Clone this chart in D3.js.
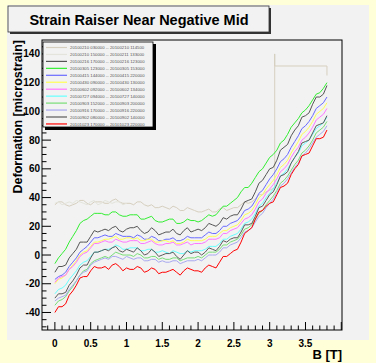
<!DOCTYPE html>
<html><head><meta charset="utf-8">
<script src="https://cdn.jsdelivr.net/npm/d3@7"></script>
<style>body{margin:0;background:#ffffd8;} svg{display:block;}</style>
</head><body><svg id="c" width="376" height="363"></svg>
<script>
const bGrid = [0,0.1,0.2,0.3,0.4,0.5,0.6,0.7,0.8,0.9,1.0,1.1,1.2,1.3,1.4,1.5,1.6,1.7,1.8,1.9,2.0,2.1,2.2,2.3,2.4,2.5,2.6,2.7,2.8,2.9,3.0,3.1,3.2,3.3,3.4,3.5,3.6,3.7,3.8];
const bMid = [0.05,0.15,0.25,0.35,0.45,0.55,0.65,0.75,0.85,0.95,1.05,1.15,1.25,1.35,1.45,1.55,1.65,1.75,1.85,1.95,2.05,2.15,2.25,2.35,2.45,2.55,2.65,2.75,2.85,2.95,3.05,3.15,3.25,3.35,3.45,3.55,3.65,3.75];
const seriesNames = [
 "20100210 030000 -- 20100210 114500","20100210 150000 -- 20100211 133000","20100216 170000 -- 20100216 123000",
 "20100305 123000 -- 20100305 153000","20100415 144000 -- 20100415 220000","20100430 090000 -- 20100430 130000",
 "20100602 092000 -- 20100602 134000","20100727 094000 -- 20100727 140000","20100903 152000 -- 20100903 200000",
 "20100916 170000 -- 20100916 220000","20100902 080000 -- 20100902 140000","20101023 170000 -- 20101023 220000"];
const seriesColors = ["#d6cfbf","#e4e4dc","#555555","#33ee33","#6a6aff","#ffff55","#ff77ff","#66ffff","#77dd77","#a8a8f0","#5a5a5a","#ff0000"];
const tanVals = [35,37,34,36,38,35,37,36,38,37,36,35,37,34,33,34,32,33,31,32,30,31,30,32,31,33,35,36,39,42,45];
const tanMid = [37,35,35,38,36,37,37,36,39,36,36,37,35,35,33,33,34,31,33,31,30,32,30,33,32,33,37,37,42,44];
const tanTailB = [3.07,3.07,3.07,3.8,3.8];
const tanTailV = [47,140,131.6,131.6,125];
const lightVals = [36,35,37,38,36,37,35,38,36,37,36];
const lightMid = [37,36,36,37,35,38,36,37,37,35];
const darkA = [-12,-8,-2,4,9,13,16,18,19,17,18,19,17,16,17,15,16,15,17,16,18,19,21,22,25,28,32,38,44,52,60,66,75,83,90,97,105,110,118];
const darkAMid = [-8,-7,1,9,9,17,17,17,20,16,19,20,15,19,14,16,18,14,19,17,17,22,20,26,27,28,37,39,50,56,61,73,77,87,96,99,110,112];
const green = [-6,1,9,17,24,27,29,28,30,28,27,28,25,26,24,23,25,22,23,24,23,26,27,31,34,38,44,47,54,60,68,73,80,89,95,101,108,113,120];
const greenMid = [-2,4,13,22,25,29,29,28,30,27,28,28,25,27,23,24,25,22,25,24,24,28,28,34,36,40,47,50,58,64,70,78,84,92,99,104,112,116];
const blue = [-17,-14,-8,-2,4,9,12,14,13,14,13,12,13,11,12,10,11,10,11,12,12,14,15,17,20,23,27,32,38,45,53,60,67,75,83,90,97,104,110];
const blueMid = [-15,-12,-5,2,6,12,13,13,15,13,13,14,11,13,10,11,12,10,13,12,12,16,15,20,22,24,31,34,43,49,56,65,70,79,88,93,102,106];
const yellow = [-20,-16,-10,-4,2,6,9,11,12,11,12,11,10,11,9,10,9,8,9,10,10,11,13,15,17,20,24,29,35,42,49,56,63,71,79,86,93,100,106];
const yellowMid = [-17,-14,-7,0,3,9,10,11,13,11,12,12,10,11,9,10,10,8,11,10,10,13,13,17,19,21,28,31,40,46,52,61,66,75,84,89,98,102];
const magenta = [-19,-15,-10,-5,1,5,8,10,9,10,9,10,8,9,8,7,8,7,8,7,8,9,11,12,15,18,22,26,32,39,46,53,60,68,75,82,89,96,102];
const magentaMid = [-16,-14,-8,-1,2,8,9,9,11,9,10,10,8,10,7,8,9,7,9,8,8,11,11,15,17,19,25,28,37,43,49,58,63,72,80,85,94,98];
const cyan = [-27,-23,-17,-11,-5,-1,2,4,5,6,4,5,3,4,2,3,1,2,1,2,3,4,6,8,11,14,18,23,29,36,43,50,57,64,71,78,84,90,96];
const cyanMid = [-24,-21,-14,-7,-4,2,3,4,7,4,5,5,3,4,2,2,3,1,3,3,3,6,6,11,13,15,22,25,34,40,46,55,60,68,76,80,88,92];
const lightGreen = [-35,-31,-25,-18,-11,-6,-3,-1,0,1,0,-1,0,-2,-1,-2,-3,-2,-3,-2,-1,0,2,4,7,10,14,19,25,31,38,45,52,59,66,73,80,87,93];
const lightGreenMid = [-32,-29,-22,-14,-10,-4,-2,-2,2,0,0,1,-2,-1,-3,-3,-2,-4,-2,-2,-2,2,2,7,9,11,18,21,29,35,41,50,55,63,71,76,85,89];
const lavender = [-32,-29,-24,-18,-12,-7,-4,-2,-1,-2,-1,-3,-2,-4,-3,-4,-5,-4,-5,-4,-3,-2,0,2,5,8,12,17,23,29,36,43,50,57,64,71,78,84,90];
const lavenderMid = [-30,-28,-21,-14,-11,-5,-3,-3,-1,-3,-2,-2,-4,-3,-5,-5,-4,-6,-4,-4,-4,0,0,5,7,9,16,19,27,33,39,48,53,61,69,74,82,86];
const darkB = [-30,-27,-21,-14,-7,-2,2,4,5,3,4,2,3,1,2,0,1,-1,0,1,2,2,4,6,9,12,16,21,27,34,42,49,56,64,72,79,85,91,97];
const darkBMid = [-27,-26,-18,-9,-7,2,3,3,6,2,3,5,0,4,-1,1,2,-3,3,2,0,5,3,10,11,12,21,22,33,38,44,55,58,68,78,80,90,92];
const red = [-40,-36,-28,-21,-15,-11,-9,-8,-7,-8,-9,-10,-9,-11,-10,-12,-11,-12,-11,-10,-11,-9,-8,-5,-1,3,9,17,25,31,36,42,48,56,63,70,76,81,87];
const redMid = [-36,-34,-25,-16,-15,-8,-9,-10,-6,-11,-10,-8,-12,-9,-13,-12,-10,-14,-9,-11,-12,-7,-9,-1,1,4,15,19,30,34,37,47,50,60,69,71,81,82];
const yTicks = [-40,-20,0,20,40,60,80,100,120,140];
const xTicks = [0,0.5,1,1.5,2,2.5,3,3.5];
const xTickLabels = ["0","0.5","1","1.5","2","2.5","3","3.5"];

const svg = d3.select("#c");
const F = "'Liberation Sans', Arial, sans-serif";
svg.append("rect").attr("x",7).attr("y",5).attr("width",362).attr("height",335).attr("fill","#f2f2f2");

const L=42,R=342,T=40,B=330;
const x = d3.scaleLinear().domain([-0.18,4.01]).range([L,R]);
const y = d3.scaleLinear().domain([-52.2,149.7]).range([B,T]);

function merge(v,m){const out=[];v.forEach((val,i)=>{out.push([bGrid[i],val]); if(i<m.length) out.push([bMid[i],m[i]]);});return out;}
const curves = [];
curves.push(merge(tanVals,tanMid).concat(tanTailB.map((b,i)=>[b,tanTailV[i]])));
curves.push(merge(lightVals,lightMid));
[[darkA,darkAMid],[green,greenMid],[blue,blueMid],[yellow,yellowMid],[magenta,magentaMid],[cyan,cyanMid],
 [lightGreen,lightGreenMid],[lavender,lavenderMid],[darkB,darkBMid],[red,redMid]].forEach(p=>curves.push(merge(p[0],p[1])));
const line = d3.line().x(d=>x(d[0])).y(d=>y(d[1]));
const g = svg.append("g");
curves.forEach((c,i)=>g.append("path").attr("d",line(c)).attr("fill","none").attr("stroke",seriesColors[i]).attr("stroke-width",1));

// frame
svg.append("rect").attr("x",L).attr("y",T).attr("width",R-L).attr("height",B-T).attr("fill","none").attr("stroke","#000");

// y axis ticks
const yMinor = d3.range(-50,150,5);
svg.append("g").selectAll("line").data(yMinor).join("line")
 .attr("x1",L).attr("x2",d=>L+(d%20===0?9:4.5)).attr("y1",d=>y(d)).attr("y2",d=>y(d)).attr("stroke","#000");
svg.append("g").selectAll("text").data(yTicks).join("text")
 .attr("x",40).attr("y",d=>y(d)+3.5).attr("text-anchor","end").attr("font-family",F).attr("font-weight","bold").attr("font-size",10).text(d=>d);
// x axis ticks
const xMinor = d3.range(-1,41,1).map(d=>d/10);
svg.append("g").selectAll("line").data(xMinor).join("line")
 .attr("y1",B).attr("y2",d=>B-((Math.round(d*10))%5===0?8:4.5)).attr("x1",d=>x(d)).attr("x2",d=>x(d)).attr("stroke","#000");
svg.append("g").selectAll("text").data(xTicks).join("text")
 .attr("x",d=>x(d)).attr("y",347).attr("text-anchor","middle").attr("font-family",F).attr("font-weight","bold").attr("font-size",10).text((d,i)=>xTickLabels[i]);

svg.append("text").attr("x",342).attr("y",359).attr("text-anchor","end").attr("font-family",F).attr("font-weight","bold").attr("font-size",13).text("B [T]");
svg.append("text").attr("transform","translate(22,40) rotate(-90)").attr("text-anchor","end").attr("font-family",F).attr("font-weight","bold").attr("font-size",12.5).text("Deformation [microstrain]");

// legend
const lg = svg.append("g");
lg.append("rect").attr("x",45).attr("y",44).attr("width",111).attr("height",86).attr("fill","#000");
lg.append("rect").attr("x",43).attr("y",42).attr("width",110).attr("height",85).attr("fill","#f2f2f2").attr("stroke","#000").attr("stroke-width",0.8);
seriesNames.forEach((n,i)=>{
  const yy = 47.5 + i*6.95;
  lg.append("line").attr("x1",46).attr("x2",67).attr("y1",yy).attr("y2",yy).attr("stroke",seriesColors[i]).attr("stroke-width",1.2);
  lg.append("text").attr("x",70).attr("y",yy+1.6).attr("font-family",F).attr("font-size",4.3).attr("fill","#555").text(n);
});

// title
svg.append("rect").attr("x",10).attr("y",8).attr("width",261).attr("height",26).attr("fill","#333");
svg.append("rect").attr("x",8).attr("y",6).attr("width",261).attr("height",26).attr("fill","#f2f2f2").attr("stroke","#333").attr("stroke-width",0.8);
svg.append("text").attr("x",139).attr("y",24.5).attr("text-anchor","middle").attr("font-family",F).attr("font-weight","bold").attr("font-size",14.5).text("Strain Raiser Near Negative Mid");
</script></body></html>
